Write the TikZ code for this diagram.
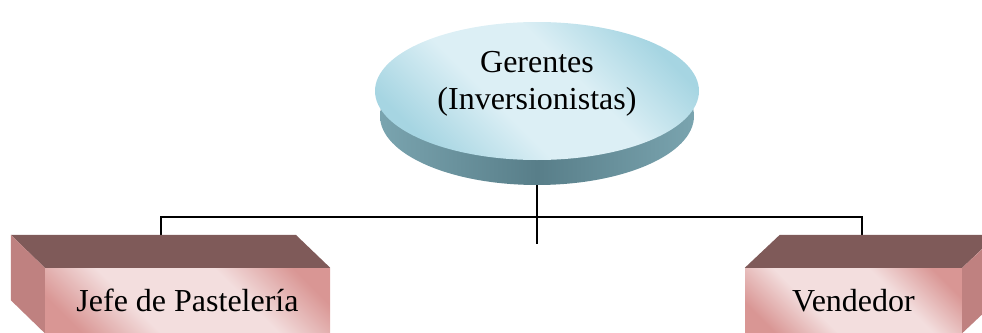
\documentclass[tikz,border=0pt]{standalone}
\usepackage{fontspec}
\setmainfont{Liberation Serif}
\usetikzlibrary{shapes.geometric}
\definecolor{boxtop}{HTML}{7F5A59}
\definecolor{boxside}{HTML}{BF8180}
\definecolor{pinkdark}{HTML}{D99694}
\definecolor{pinklight}{HTML}{F3DEDE}
\definecolor{bluedark}{HTML}{A6D5E2}
\definecolor{bluelight}{HTML}{DCEFF5}
\definecolor{sidelight}{HTML}{7AA4AF}
\definecolor{sidedark}{HTML}{587E89}
\pgfdeclareverticalshading{pinkband}{100bp}{color(0bp)=(pinkdark); color(22bp)=(pinkdark); color(38bp)=(pinklight); color(62bp)=(pinklight); color(78bp)=(pinkdark); color(100bp)=(pinkdark)}
\pgfdeclareverticalshading{blueband}{100bp}{color(0bp)=(bluedark); color(25bp)=(bluedark); color(42bp)=(bluelight); color(58bp)=(bluelight); color(75bp)=(bluedark); color(100bp)=(bluedark)}
\begin{document}
\begin{tikzpicture}[x=1pt,y=1pt,
  lbl/.style={font=\fontsize{32}{37}\selectfont,align=center,inner sep=0pt},
  front/.style={rectangle,inner sep=0pt,shading=pinkband,shading angle=-45,lbl},
  line/.style={line width=1.2pt}]
\useasboundingbox (0,0) rectangle (982,-332);
\clip (0,0) rectangle (982,-332);

% ellipse on top
\shade[left color=sidelight,right color=sidelight,middle color=sidedark] (537,-116) ellipse (157 and 69);
\shade[shading=blueband,shading angle=-45] (537,-91) ellipse (162 and 69);
\node[lbl] (ger) at (537,-84) {Gerentes\\(Inversionistas)};

% lines
\coordinate (gerbot) at (537,-185);
\coordinate (stub) at (537,-244);
\coordinate (jefetop) at (161,-235);
\coordinate (vendtop) at (862,-235);
\draw[line] (gerbot) -- (stub);
\draw[line] (jefetop) -- ++(0,18) -| (vendtop);

% left box
\node[front,minimum width=285pt,minimum height=65pt] (jefe) at (187.5,-300.5) {Jefe de Pastelería};
\fill[boxtop] (jefe.north west) -- ++(-34,33) -- ++(285,0) -- (jefe.north east) -- cycle;
\fill[boxside] (jefe.north west) -- ++(-34,33) -- ([shift={(-34,33)}]jefe.south west) -- (jefe.south west) -- cycle;

% right box
\node[front,minimum width=217pt,minimum height=65pt] (vend) at (853.5,-300.5) {Vendedor};
\fill[boxtop] (vend.north west) -- ++(35,33) -- ++(217,0) -- (vend.north east) -- cycle;
\fill[boxside] (vend.north east) -- ++(35,33) -- ([shift={(35,33)}]vend.south east) -- (vend.south east) -- cycle;
\end{tikzpicture}
\end{document}
